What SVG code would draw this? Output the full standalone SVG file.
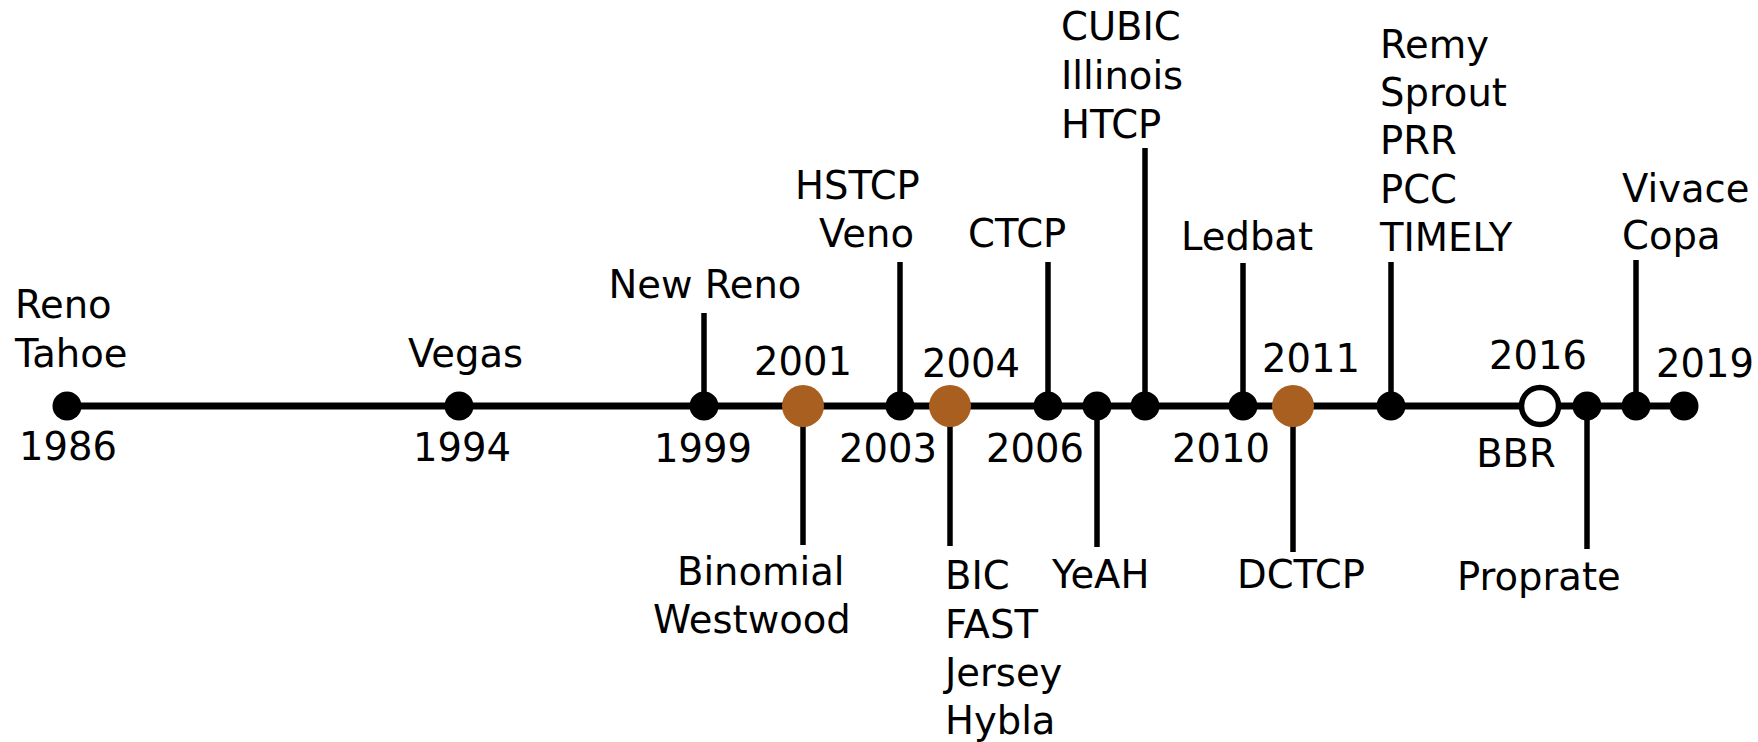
<svg xmlns="http://www.w3.org/2000/svg" width="1758" height="742" viewBox="0 0 1758 742">
<style>
text{font-family:"DejaVu Sans","Liberation Sans",sans-serif;font-size:38.5px;fill:#000}
.m{text-anchor:middle}
.ax{stroke:#000;stroke-width:7;fill:none}
.st{stroke:#000;stroke-width:5.5;fill:none}
.d{fill:#000}
.b{fill:#a85f1f}
.o{fill:#fff;stroke:#000;stroke-width:5.5}
</style>
<rect width="1758" height="742" fill="#fff"/>
<g id="connectors">
<line class="ax" x1="67" y1="406" x2="1684" y2="406"/>
<line class="st" x1="704" y1="406" x2="704" y2="313"/>
<line class="st" x1="900" y1="406" x2="900" y2="262"/>
<line class="st" x1="1048" y1="406" x2="1048" y2="262"/>
<line class="st" x1="1145" y1="406" x2="1145" y2="148"/>
<line class="st" x1="1243" y1="406" x2="1243" y2="263"/>
<line class="st" x1="1391" y1="406" x2="1391" y2="262"/>
<line class="st" x1="1636" y1="406" x2="1636" y2="260"/>
<line class="st" x1="803" y1="406" x2="803" y2="545"/>
<line class="st" x1="950" y1="406" x2="950" y2="546"/>
<line class="st" x1="1097" y1="406" x2="1097" y2="547"/>
<line class="st" x1="1293" y1="406" x2="1293" y2="552"/>
<line class="st" x1="1587" y1="406" x2="1587" y2="549"/>
</g>
<g id="n1986"><circle class="d" cx="67" cy="406" r="14.5"/><text x="15" y="318">Reno</text><text x="15" y="367">Tahoe</text><text class="m" x="68" y="460">1986</text></g>
<g id="n1994"><circle class="d" cx="459" cy="406" r="14.5"/><text x="408" y="367">Vegas</text><text class="m" x="462" y="461">1994</text></g>
<g id="n1999"><circle class="d" cx="704" cy="406" r="14.5"/><text class="m" x="705" y="298">New Reno</text><text class="m" x="703" y="462">1999</text></g>
<g id="n2001"><circle class="b" cx="803" cy="406" r="21"/><text class="m" x="803" y="375">2001</text><text x="677" y="585">Binomial</text><text x="653" y="633">Westwood</text></g>
<g id="n2003"><circle class="d" cx="900" cy="406" r="14.5"/><text x="795" y="199">HSTCP</text><text x="819" y="247">Veno</text><text class="m" x="888" y="462">2003</text></g>
<g id="n2004"><circle class="b" cx="950" cy="406" r="21"/><text class="m" x="971" y="377">2004</text><text x="945" y="589">BIC</text><text x="945" y="638">FAST</text><text x="945" y="686">Jersey</text><text x="945" y="734">Hybla</text></g>
<g id="n2006"><circle class="d" cx="1048" cy="406" r="14.5"/><text x="968" y="247">CTCP</text><text class="m" x="1035" y="462">2006</text></g>
<g id="nYeAH"><circle class="d" cx="1097" cy="406" r="14.5"/><text x="1052" y="588">YeAH</text></g>
<g id="nCUBIC"><circle class="d" cx="1145" cy="406" r="14.5"/><text x="1061" y="40">CUBIC</text><text x="1061" y="89">Illinois</text><text x="1061" y="138">HTCP</text></g>
<g id="n2010"><circle class="d" cx="1243" cy="406" r="14.5"/><text x="1181" y="250">Ledbat</text><text class="m" x="1221" y="462">2010</text></g>
<g id="n2011"><circle class="b" cx="1293" cy="406" r="21"/><text class="m" x="1311" y="372">2011</text><text x="1237" y="588">DCTCP</text></g>
<g id="nRemy"><circle class="d" cx="1391" cy="406" r="14.5"/><text x="1380" y="58">Remy</text><text x="1380" y="106">Sprout</text><text x="1380" y="154">PRR</text><text x="1380" y="203">PCC</text><text x="1380" y="251">TIMELY</text></g>
<g id="n2016"><circle class="o" cx="1540" cy="406" r="18.5"/><text class="m" x="1538" y="369">2016</text><text class="m" x="1516" y="467">BBR</text></g>
<g id="nProprate"><circle class="d" cx="1587" cy="406" r="14.5"/><text x="1457" y="590">Proprate</text></g>
<g id="nVivace"><circle class="d" cx="1636" cy="406" r="14.5"/><text x="1622" y="202">Vivace</text><text x="1622" y="249">Copa</text></g>
<g id="n2019"><circle class="d" cx="1684" cy="406" r="14.5"/><text class="m" x="1705" y="377">2019</text></g>
</svg>
